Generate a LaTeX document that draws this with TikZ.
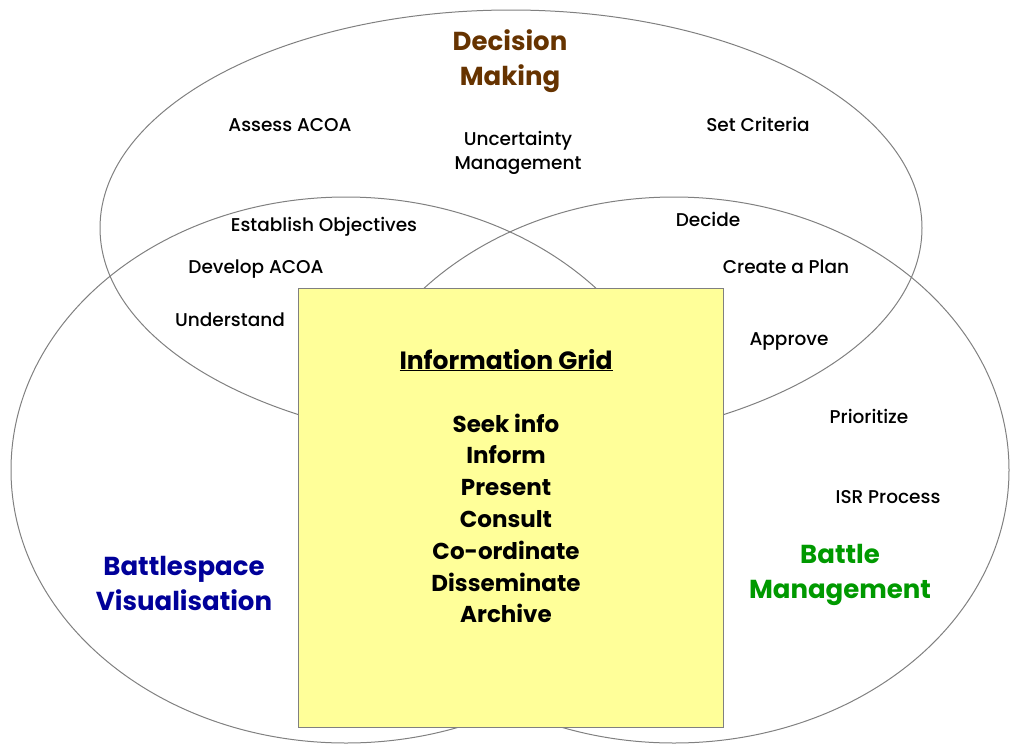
\documentclass[tikz,border=0pt]{standalone}
\usepackage{fontspec}
\setmainfont{Poppins}
\newfontfamily\taskfont{Poppins Medium}
\usetikzlibrary{positioning}
\definecolor{gridyellow}{HTML}{FFFF99}
\definecolor{dmbrown}{HTML}{663300}
\definecolor{bvblue}{HTML}{000099}
\definecolor{bmgreen}{HTML}{009900}
\definecolor{ringgray}{HTML}{808080}
\tikzset{
  ring/.style={draw=ringgray, line width=1pt},
  task/.style={fill=white, inner sep=1pt, anchor=base, font=\taskfont\fontsize{18.5}{24}\selectfont},
  area/.style={align=center, font=\fontsize{26}{35}\selectfont\bfseries},
  gridtask/.style={anchor=base, font=\fontsize{23}{28}\selectfont\bfseries},
}
\begin{document}
\begin{tikzpicture}[x=1pt,y=-1pt]
  \useasboundingbox (0,0) rectangle (1010,745);
  % the three areas
  \draw[ring] (511,228) ellipse [x radius=411, y radius=218];
  \draw[ring] (346,470) ellipse [x radius=335, y radius=273];
  \draw[ring] (674,470) ellipse [x radius=335, y radius=273];
  % information grid in the middle
  \node[draw=ringgray, fill=gridyellow, minimum width=425, minimum height=439, inner sep=0pt] (grid) at (510.5,507.5) {};
  \node[gridtask, font=\fontsize{25}{28}\selectfont\bfseries] (head) at (506,369) {\underline{Information Grid}};
  \foreach \t [count=\i] in {Seek info, Inform, Present, Consult, Co-ordinate, Disseminate, Archive}
    {\node[gridtask] (item\i) at (506,{432+(\i-1)*31.8}) {\t};}
  % area titles
  \node[area, text=dmbrown] (dm) at (510,61) {Decision\\Making};
  \node[area, text=bvblue] (bv) at (184,583) {Battlespace\\Visualisation};
  \node[area, text=bmgreen] (bm) at (840,575) {Battle\\Management};
  % tasks
  \foreach \t/\x/\y/\n in {Assess ACOA/290/131/assess, Set Criteria/758/131/criteria,
    Establish Objectives/324/231/objectives, Decide/708/226/decide,
    Develop ACOA/256/273/develop, Create a Plan/786/273/plan,
    Understand/230/326/understand, Approve/789/345/approve,
    Prioritize/869/423/prioritize, ISR Process/888/503/isr}
    {\node[task] (\n) at (\x,\y) {\t};}
  \node[task, align=center] (uncert) at (518,169) {Uncertainty\\Management};
\end{tikzpicture}
\end{document}
